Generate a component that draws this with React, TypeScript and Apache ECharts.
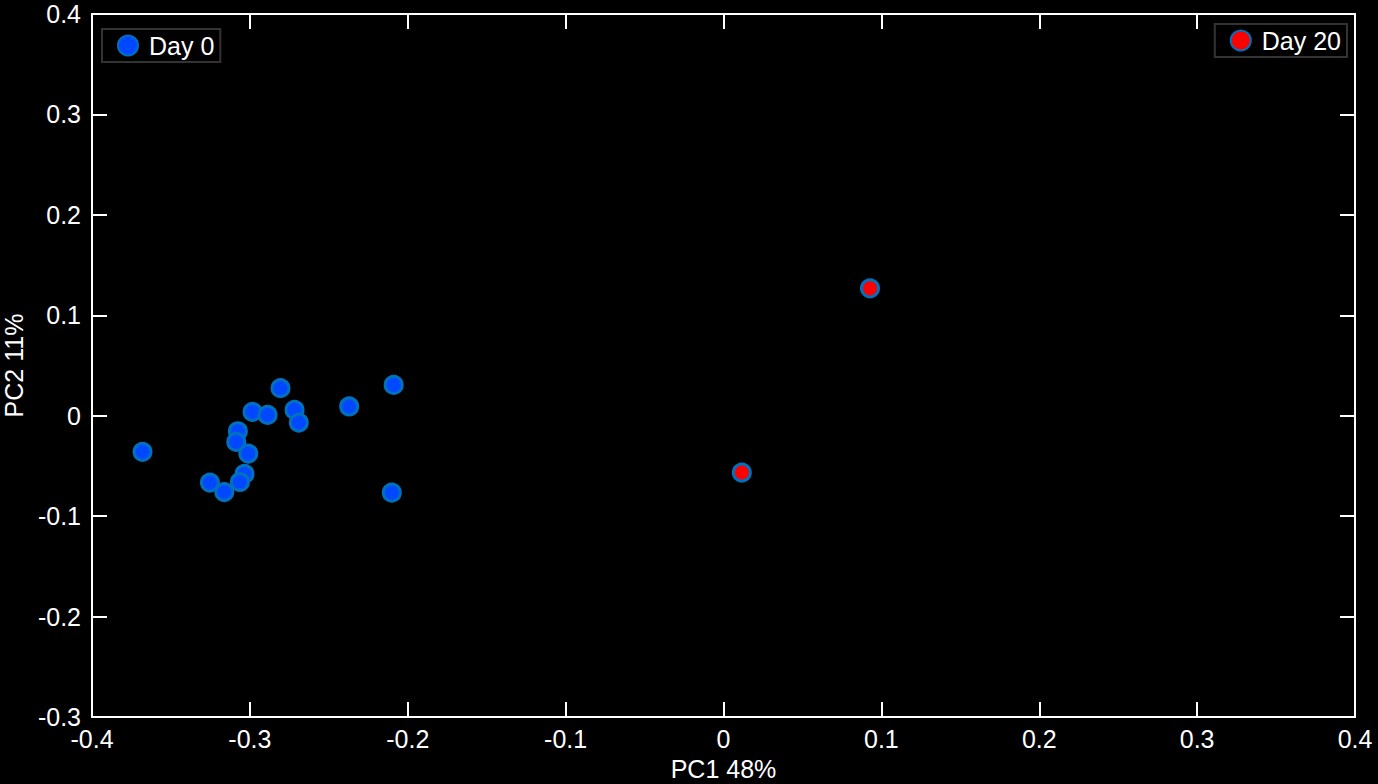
import React, { useEffect, useRef } from "react";
import * as echarts from "echarts";

const day0X = [-0.368, -0.2806, -0.2089, -0.2983, -0.2888, -0.2717, -0.269, -0.2371, -0.2101, -0.3076, -0.3086, -0.301, -0.3034, -0.3063, -0.3253, -0.3162];
const day0Y = [-0.036, 0.0274, 0.0307, 0.0038, 0.0008, 0.0058, -0.0068, 0.0092, -0.0766, -0.0155, -0.0261, -0.0377, -0.058, -0.066, -0.0666, -0.076];
const day20X = [0.0928, 0.0116];
const day20Y = [0.1268, -0.0566];
const xTicks = [-0.4, -0.3, -0.2, -0.1, 0, 0.1, 0.2, 0.3, 0.4];
const yTicks = [-0.3, -0.2, -0.1, 0, 0.1, 0.2, 0.3, 0.4];

const FONT = "'Liberation Sans', Arial, Helvetica, sans-serif";
const FS = 25;
const fmt = (v: number) => {
  const r = Math.round(v * 10) / 10;
  return r === 0 ? "0" : String(r);
};

export default function App() {
  const ref = useRef<HTMLDivElement>(null);
  useEffect(() => {
    if (!ref.current) return;
    const chart = echarts.init(ref.current, null, { renderer: "svg" });
    const axisLine = { show: true, onZero: false, lineStyle: { color: "#ffffff", width: 2 } };
    const axisTick = { show: true, inside: true, length: 15, lineStyle: { color: "#ffffff", width: 2 } };
    const xCommon = {
      type: "value" as const,
      min: -0.4,
      max: 0.4,
      interval: 0.1,
      splitLine: { show: false },
      axisLine,
      axisTick,
    };
    const yCommon = {
      type: "value" as const,
      min: -0.3,
      max: 0.4,
      interval: 0.1,
      splitLine: { show: false },
      axisLine,
      axisTick,
    };
    const legendCommon = {
      orient: "vertical" as const,
      borderColor: "#333333",
      borderWidth: 2,
      padding: [4, 6, 4, 15],
      itemWidth: 20,
      itemHeight: 20,
      icon: "circle",
      textStyle: { color: "#ffffff", fontSize: FS, fontFamily: FONT, padding: [0, 0, 0, 6] },
    };
    chart.setOption({
      animation: false,
      backgroundColor: "#000000",
      textStyle: { fontFamily: FONT },
      grid: { left: 92, right: 23, top: 14, bottom: 67, containLabel: false, outerBoundsMode: "none" },
      legend: [
        { ...legendCommon, data: ["Day 0"], left: 102, top: 29 },
        { ...legendCommon, data: ["Day 20"], right: 31, top: 24 },
      ],
      xAxis: [
        {
          ...xCommon,
          position: "bottom",
          name: "PC1 48%",
          nameLocation: "middle",
          nameGap: 39,
          nameTextStyle: { color: "#ffffff", fontSize: FS, fontFamily: FONT },
          axisLabel: {
            color: "#ffffff",
            fontSize: FS,
            margin: 9,
            fontFamily: FONT,
            showMinLabel: true,
            showMaxLabel: true,
            formatter: (v: number) => (xTicks.some((t) => Math.abs(t - v) < 1e-9) ? fmt(v) : ""),
          },
        },
        { ...xCommon, position: "top", axisLabel: { show: false } },
      ],
      yAxis: [
        {
          ...yCommon,
          position: "left",
          name: "PC2 11%",
          nameLocation: "middle",
          nameGap: 66,
          nameRotate: 90,
          nameTextStyle: { color: "#ffffff", fontSize: FS, fontFamily: FONT },
          axisLabel: {
            color: "#ffffff",
            fontSize: FS,
            margin: 11,
            fontFamily: FONT,
            showMinLabel: true,
            showMaxLabel: true,
            formatter: (v: number) => (yTicks.some((t) => Math.abs(t - v) < 1e-9) ? fmt(v) : ""),
          },
        },
        { ...yCommon, position: "right", axisLabel: { show: false } },
      ],
      series: [
        {
          name: "Day 0",
          type: "scatter",
          symbol: "circle",
          symbolSize: 17,
          itemStyle: { color: "#0048ff", borderColor: "#0072bd", borderWidth: 3, opacity: 1 },
          data: day0X.map((x, i) => [x, day0Y[i]]),
        },
        {
          name: "Day 20",
          type: "scatter",
          symbol: "circle",
          symbolSize: 17,
          itemStyle: { color: "#ff0000", borderColor: "#0072bd", borderWidth: 3, opacity: 1 },
          data: day20X.map((x, i) => [x, day20Y[i]]),
        },
      ],
    });
    return () => chart.dispose();
  }, []);
  return (
    <div
      ref={ref}
      style={{ position: "fixed", left: 0, top: 0, width: 1378, height: 784, background: "#000" }}
    />
  );
}
